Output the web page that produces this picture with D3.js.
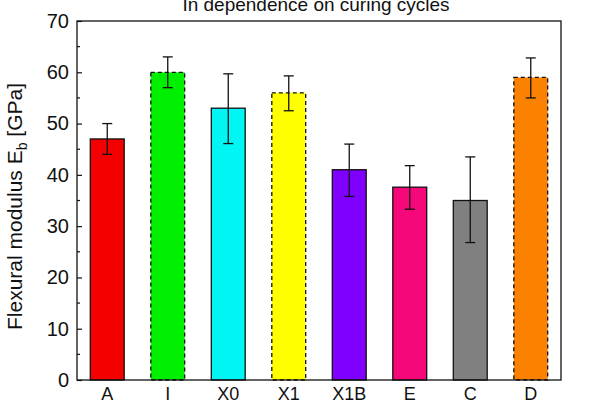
<!DOCTYPE html>
<html>
<head>
<meta charset="utf-8">
<script src="https://cdn.jsdelivr.net/npm/d3@7.9.0/dist/d3.min.js"></script>
<style>
  body { margin: 0; background: #fff; }
  svg { font-family: "Liberation Sans", Arial, sans-serif; }
</style>
</head>
<body>
<svg width="607" height="407"></svg>
<script>
const categories = ['A', 'I', 'X0', 'X1', 'X1B', 'E', 'C', 'D'];
const values = [47, 60, 53, 56, 41, 37.6, 35, 59];
const errLow = [44, 57, 46.1, 52.5, 35.8, 33.3, 26.8, 55];
const errHigh = [50, 63, 59.7, 59.3, 46, 41.8, 43.5, 62.8];
const colors = ['#f50000', '#00ee00', '#00f5f5', '#ffff00', '#8000ff', '#f5087a', '#808080', '#fa8200'];
const dashed = [false, true, false, true, false, false, false, true];
const yTicks = [0, 10, 20, 30, 40, 50, 60, 70];

const svg = d3.select('svg');
const margin = { left: 77, right: 46, top: 21, bottom: 27 };
const width = 607 - margin.left - margin.right;
const height = 407 - margin.top - margin.bottom;

const g = svg.append('g').attr('transform', `translate(${margin.left},${margin.top})`);

const x = d3.scaleBand().domain(categories).range([0, width]).paddingInner(0.44).paddingOuter(0.22);
const y = d3.scaleLinear().domain([0, 70]).range([height, 0]);

// bars
const data = categories.map((c, i) => ({ c, v: values[i], lo: errLow[i], hi: errHigh[i], col: colors[i], dash: dashed[i] }));

g.selectAll('rect.bar')
  .data(data)
  .join('rect')
  .attr('class', 'bar')
  .attr('x', d => x(d.c))
  .attr('y', d => y(d.v))
  .attr('width', x.bandwidth())
  .attr('height', d => y(0) - y(d.v))
  .attr('fill', d => d.col)
  .attr('stroke', '#111')
  .attr('stroke-width', 1.3)
  .attr('stroke-dasharray', d => d.dash ? '4,3' : null);

// error bars
const cap = 5;
const eb = g.selectAll('g.err').data(data).join('g').attr('class', 'err')
  .attr('transform', d => `translate(${x(d.c) + x.bandwidth() / 2},0)`)
  .attr('stroke', '#111').attr('stroke-width', 1.3);
eb.append('line').attr('y1', d => y(d.lo)).attr('y2', d => y(d.hi));
eb.append('line').attr('x1', -cap).attr('x2', cap).attr('y1', d => y(d.hi)).attr('y2', d => y(d.hi));
eb.append('line').attr('x1', -cap).attr('x2', cap).attr('y1', d => y(d.lo)).attr('y2', d => y(d.lo));

// frame
g.append('rect').attr('width', width).attr('height', height)
  .attr('fill', 'none').attr('stroke', '#111').attr('stroke-width', 1.3);

// y axis: major and minor ticks pointing inward
const yAxis = d3.axisLeft(y).tickValues(yTicks).tickSizeInner(-5).tickSizeOuter(0).tickPadding(8);
const ya = g.append('g').call(yAxis);
ya.select('.domain').remove();
ya.selectAll('line').attr('stroke', '#111').attr('stroke-width', 1.2);
ya.selectAll('text').attr('font-size', 20).attr('fill', '#111');

const minor = d3.range(5, 70, 10);
g.selectAll('line.minor').data(minor).join('line').attr('class', 'minor')
  .attr('x1', 0).attr('x2', 3).attr('y1', d => y(d)).attr('y2', d => y(d))
  .attr('stroke', '#111').attr('stroke-width', 1.2);

// x axis labels
const xAxis = d3.axisBottom(x).tickSize(0).tickPadding(7);
const xa = g.append('g').attr('transform', `translate(0,${height})`).call(xAxis);
xa.select('.domain').remove();
xa.selectAll('text').attr('font-size', 18).attr('fill', '#111');

// title
svg.append('text').attr('x', margin.left + width / 2 - 3).attr('y', 11)
  .attr('text-anchor', 'middle').attr('font-size', 19).attr('fill', '#111')
  .text('In dependence on curing cycles');

// y label
const yl = svg.append('text')
  .attr('transform', `translate(22,${margin.top + height / 2 + 6}) rotate(-90)`)
  .attr('text-anchor', 'middle').attr('font-size', 21).attr('fill', '#111');
yl.append('tspan').text('Flexural modulus E');
yl.append('tspan').attr('font-size', 14).attr('dy', 5).text('b');
yl.append('tspan').attr('dy', -5).text(' [GPa]');
</script>
</body>
</html>
